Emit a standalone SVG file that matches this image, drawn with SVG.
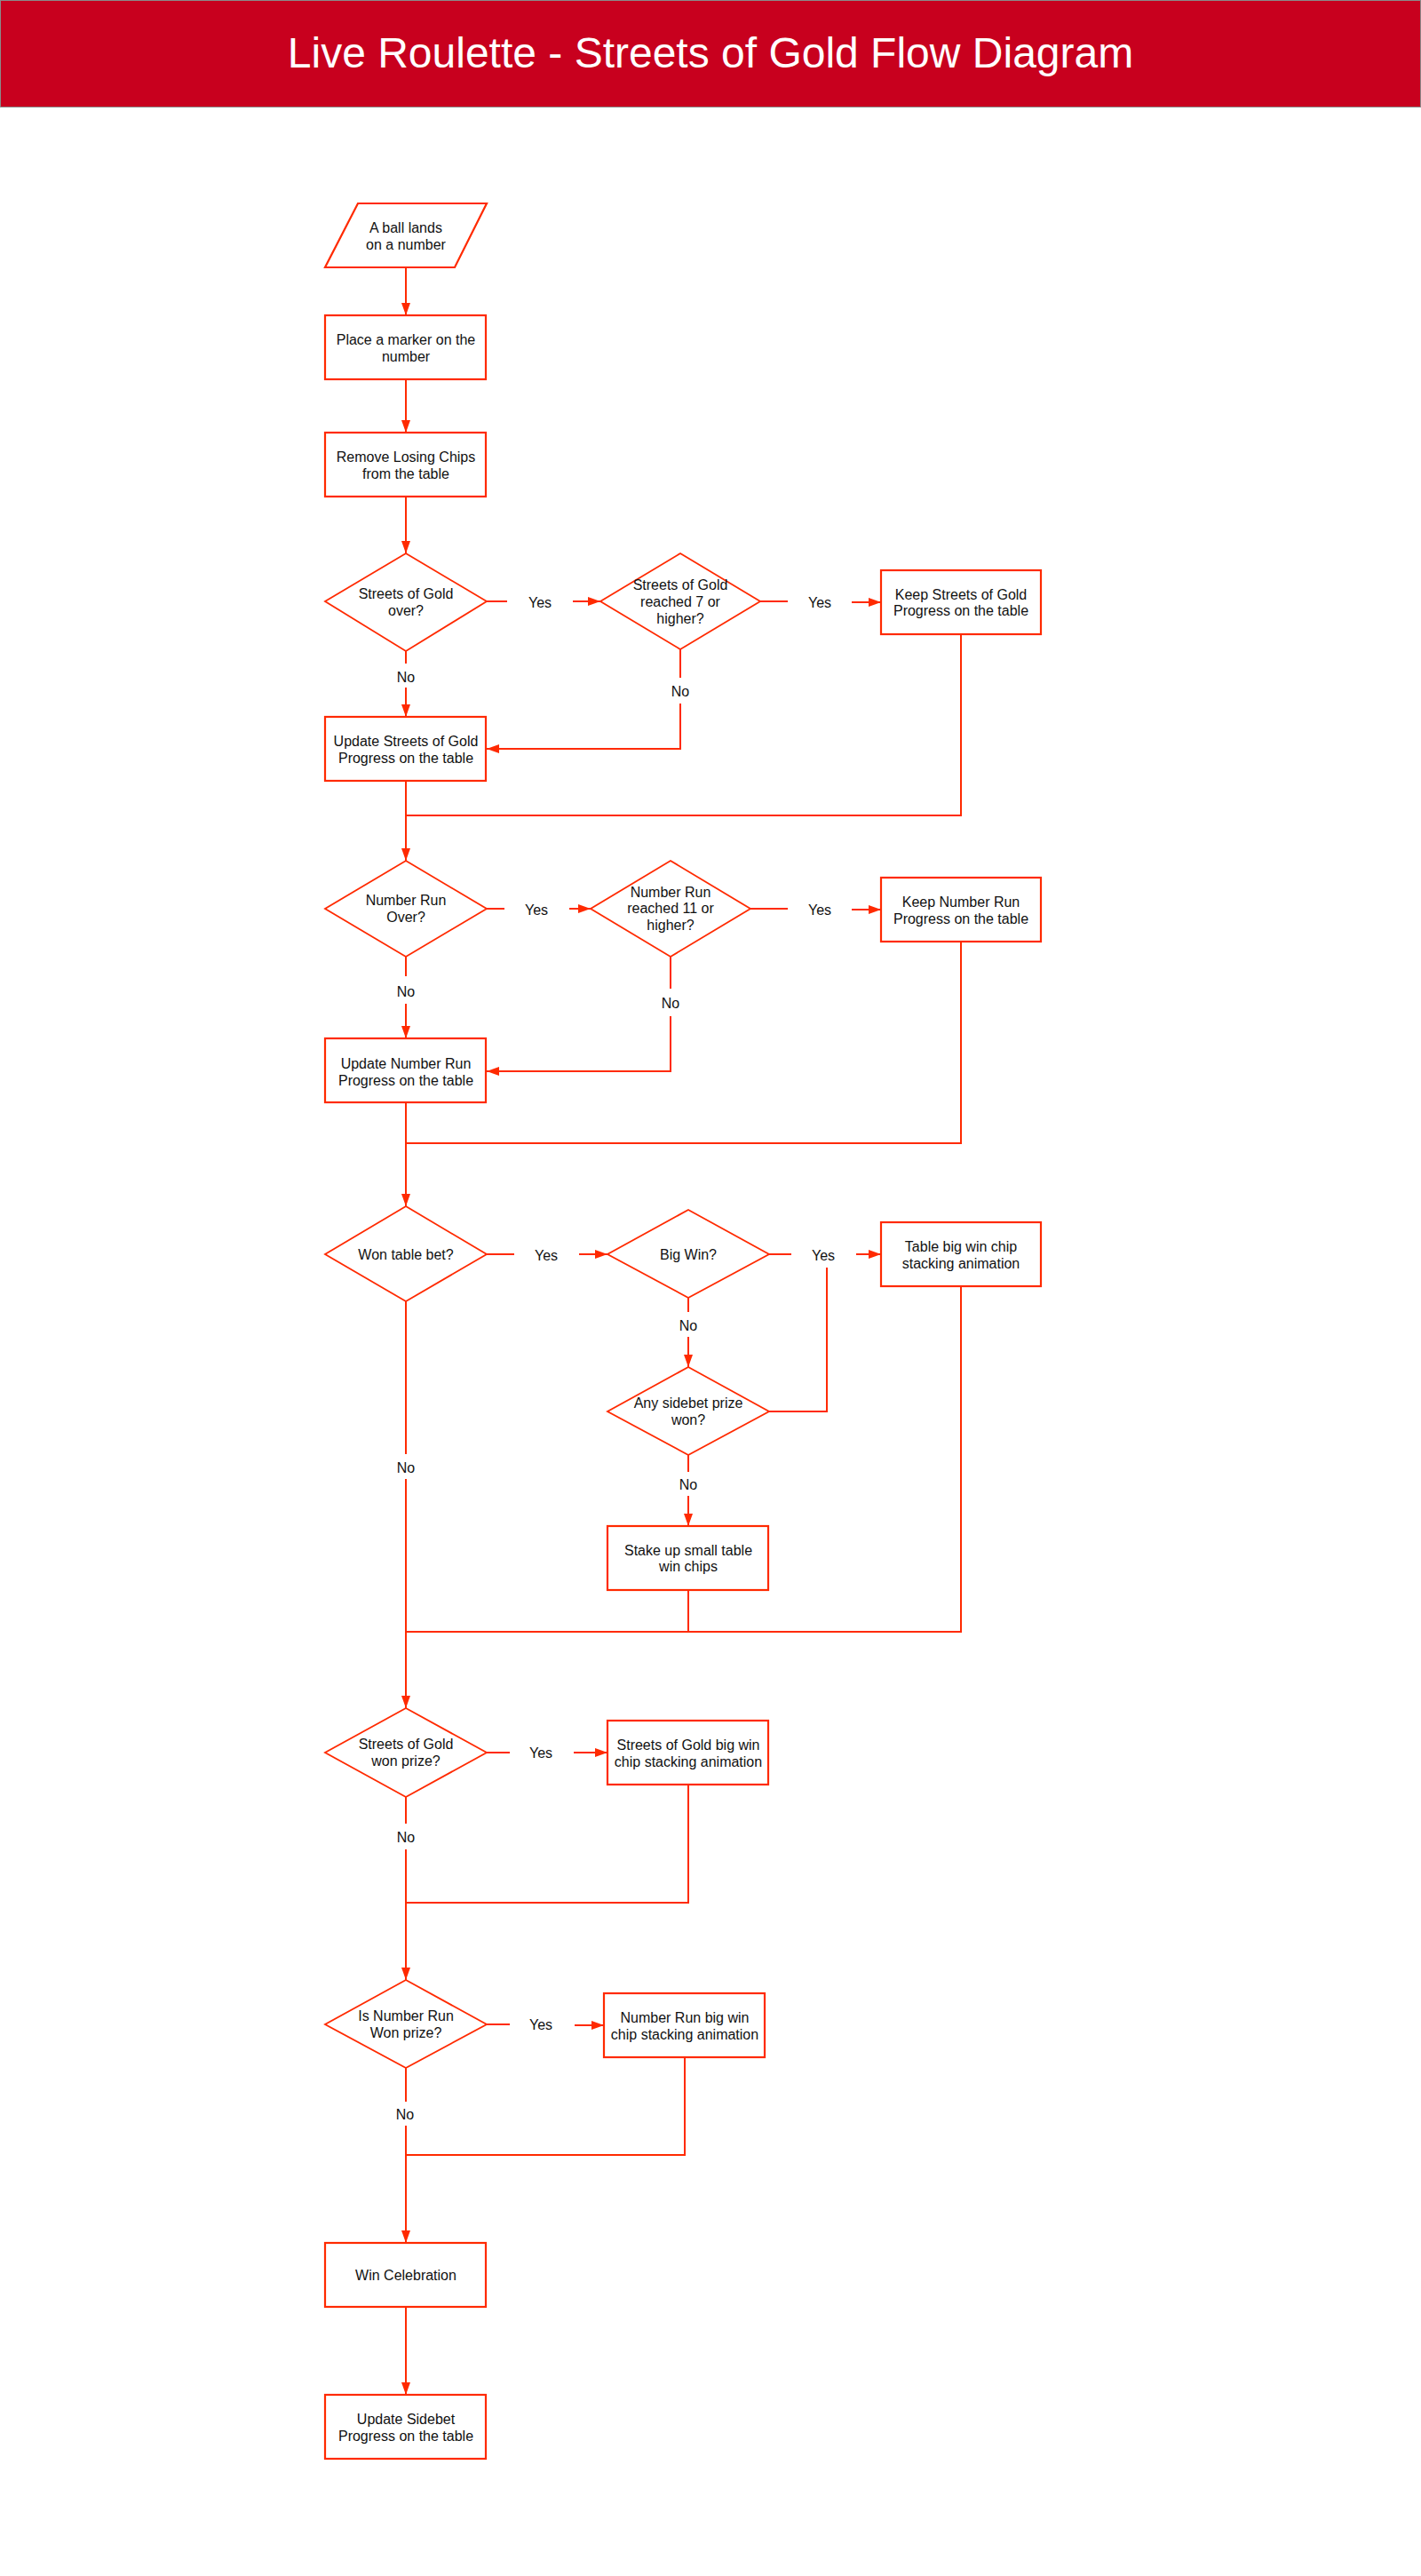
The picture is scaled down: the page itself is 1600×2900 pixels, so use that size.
<svg xmlns="http://www.w3.org/2000/svg" width="1600" height="2900" viewBox="0 0 1600 2900">
<style>
.nd{fill:#fff;stroke:#FF2A00;stroke-width:2.2}
.dm{fill:#fff;stroke:#FF2A00;stroke-width:1.8}
.t{font-family:"Liberation Sans",Arial,sans-serif;font-size:16px;fill:#111;text-anchor:middle}
.c{fill:none;stroke:#FF2A00;stroke-width:2}
.title{font-family:"Liberation Sans",Arial,sans-serif;font-size:48px;fill:#fff;text-anchor:middle}
</style>
<defs>
<marker id="ah" markerUnits="userSpaceOnUse" markerWidth="16" markerHeight="12" refX="14" refY="5" orient="auto">
<path d="M0,0 L14,5 L0,10 z" fill="#FF2A00"/>
</marker>
</defs>
<rect x="0" y="0" width="1600" height="2900" fill="#fff"/>
<g id="header">
<rect x="0.5" y="0.5" width="1599" height="120" fill="#C8001E" stroke="#8a8a8a" stroke-width="1"/>
<text class="title" x="800" y="76">Live Roulette - Streets of Gold Flow Diagram</text>
</g>
<g id="connectors">
<path class="c" d="M457,301 V355" marker-end="url(#ah)"/>
<path class="c" d="M457,427 V487" marker-end="url(#ah)"/>
<path class="c" d="M457,559 V623" marker-end="url(#ah)"/>
<path class="c" d="M548,677 H571"/>
<path class="c" d="M645,677 H676" marker-end="url(#ah)"/>
<path class="c" d="M856,677 H887"/>
<path class="c" d="M959,678 H992" marker-end="url(#ah)"/>
<path class="c" d="M457,733 V747"/>
<path class="c" d="M457,774 V807" marker-end="url(#ah)"/>
<path class="c" d="M766,731 V763"/>
<path class="c" d="M766,792 V843 H548" marker-end="url(#ah)"/>
<path class="c" d="M1082,714 V918 H457"/>
<path class="c" d="M457,879 V969" marker-end="url(#ah)"/>
<path class="c" d="M548,1023 H568"/>
<path class="c" d="M641,1023 H665" marker-end="url(#ah)"/>
<path class="c" d="M845,1023 H887"/>
<path class="c" d="M959,1024 H992" marker-end="url(#ah)"/>
<path class="c" d="M457,1077 V1099"/>
<path class="c" d="M457,1130 V1169" marker-end="url(#ah)"/>
<path class="c" d="M755,1077 V1113"/>
<path class="c" d="M755,1144 V1206 H548" marker-end="url(#ah)"/>
<path class="c" d="M1082,1060 V1287 H457"/>
<path class="c" d="M457,1241 V1358" marker-end="url(#ah)"/>
<path class="c" d="M548,1412 H579"/>
<path class="c" d="M652,1412 H684" marker-end="url(#ah)"/>
<path class="c" d="M866,1412 H891"/>
<path class="c" d="M964,1412 H992" marker-end="url(#ah)"/>
<path class="c" d="M775,1461 V1477"/>
<path class="c" d="M775,1505 V1539" marker-end="url(#ah)"/>
<path class="c" d="M866,1589 H931 V1427"/>
<path class="c" d="M775,1638 V1657"/>
<path class="c" d="M775,1684 V1718" marker-end="url(#ah)"/>
<path class="c" d="M457,1465 V1637"/>
<path class="c" d="M457,1665 V1923" marker-end="url(#ah)"/>
<path class="c" d="M1082,1448 V1837 H457"/>
<path class="c" d="M775,1790 V1837"/>
<path class="c" d="M548,1973 H574"/>
<path class="c" d="M646,1973 H684" marker-end="url(#ah)"/>
<path class="c" d="M457,2023 V2053"/>
<path class="c" d="M457,2082 V2229" marker-end="url(#ah)"/>
<path class="c" d="M775,2009 V2142 H457"/>
<path class="c" d="M548,2279 H574"/>
<path class="c" d="M647,2280 H680" marker-end="url(#ah)"/>
<path class="c" d="M457,2328 V2366"/>
<path class="c" d="M457,2393 V2525" marker-end="url(#ah)"/>
<path class="c" d="M771,2316 V2426 H457"/>
<path class="c" d="M457,2597 V2696" marker-end="url(#ah)"/>
</g>
<g id="labels">
<text class="t" x="608" y="684">Yes</text>
<text class="t" x="923" y="684">Yes</text>
<text class="t" x="457" y="768">No</text>
<text class="t" x="766" y="784">No</text>
<text class="t" x="604" y="1030">Yes</text>
<text class="t" x="923" y="1030">Yes</text>
<text class="t" x="457" y="1122">No</text>
<text class="t" x="755" y="1135">No</text>
<text class="t" x="615" y="1419">Yes</text>
<text class="t" x="927" y="1419">Yes</text>
<text class="t" x="775" y="1498">No</text>
<text class="t" x="775" y="1677">No</text>
<text class="t" x="457" y="1658">No</text>
<text class="t" x="609" y="1979">Yes</text>
<text class="t" x="457" y="2074">No</text>
<text class="t" x="609" y="2285">Yes</text>
<text class="t" x="456" y="2386">No</text>
</g>
<g id="n1"><polygon class="nd" points="403,229 548,229 512,301 366,301"/><text class="t" x="457" y="262">A ball lands</text><text class="t" x="457" y="281">on a number</text></g>
<g id="n2"><rect class="nd" x="366" y="355" width="181" height="72"/><text class="t" x="457" y="388">Place a marker on the</text><text class="t" x="457" y="407">number</text></g>
<g id="n3"><rect class="nd" x="366" y="487" width="181" height="72"/><text class="t" x="457" y="520">Remove Losing Chips</text><text class="t" x="457" y="539">from the table</text></g>
<g id="n4"><polygon class="dm" points="457,623 548,677 457,733 366,677"/><text class="t" x="457" y="674">Streets of Gold</text><text class="t" x="457" y="693">over?</text></g>
<g id="n5"><polygon class="dm" points="766,623 856,677 766,731 676,677"/><text class="t" x="766" y="664">Streets of Gold</text><text class="t" x="766" y="683">reached 7 or</text><text class="t" x="766" y="702">higher?</text></g>
<g id="n6"><rect class="nd" x="992" y="642" width="180" height="72"/><text class="t" x="1082" y="675">Keep Streets of Gold</text><text class="t" x="1082" y="693">Progress on the table</text></g>
<g id="n7"><rect class="nd" x="366" y="807" width="181" height="72"/><text class="t" x="457" y="840">Update Streets of Gold</text><text class="t" x="457" y="859">Progress on the table</text></g>
<g id="n8"><polygon class="dm" points="457,969 548,1023 457,1077 366,1023"/><text class="t" x="457" y="1019">Number Run</text><text class="t" x="457" y="1038">Over?</text></g>
<g id="n9"><polygon class="dm" points="755,969 845,1023 755,1077 665,1023"/><text class="t" x="755" y="1010">Number Run</text><text class="t" x="755" y="1028">reached 11 or</text><text class="t" x="755" y="1047">higher?</text></g>
<g id="n10"><rect class="nd" x="992" y="988" width="180" height="72"/><text class="t" x="1082" y="1021">Keep Number Run</text><text class="t" x="1082" y="1040">Progress on the table</text></g>
<g id="n11"><rect class="nd" x="366" y="1169" width="181" height="72"/><text class="t" x="457" y="1203">Update Number Run</text><text class="t" x="457" y="1222">Progress on the table</text></g>
<g id="n12"><polygon class="dm" points="457,1358 548,1412 457,1465 366,1412"/><text class="t" x="457" y="1418">Won table bet?</text></g>
<g id="n13"><polygon class="dm" points="775,1362 866,1412 775,1461 684,1412"/><text class="t" x="775" y="1418">Big Win?</text></g>
<g id="n14"><rect class="nd" x="992" y="1376" width="180" height="72"/><text class="t" x="1082" y="1409">Table big win chip</text><text class="t" x="1082" y="1428">stacking animation</text></g>
<g id="n15"><polygon class="dm" points="775,1539 866,1589 775,1638 684,1589"/><text class="t" x="775" y="1585">Any sidebet prize</text><text class="t" x="775" y="1604">won?</text></g>
<g id="n16"><rect class="nd" x="684" y="1718" width="181" height="72"/><text class="t" x="775" y="1751">Stake up small table</text><text class="t" x="775" y="1769">win chips</text></g>
<g id="n17"><polygon class="dm" points="457,1923 548,1973 457,2023 366,1973"/><text class="t" x="457" y="1969">Streets of Gold</text><text class="t" x="457" y="1988">won prize?</text></g>
<g id="n18"><rect class="nd" x="684" y="1937" width="181" height="72"/><text class="t" x="775" y="1970">Streets of Gold big win</text><text class="t" x="775" y="1989">chip stacking animation</text></g>
<g id="n19"><polygon class="dm" points="457,2229 548,2279 457,2328 366,2279"/><text class="t" x="457" y="2275">Is Number Run</text><text class="t" x="457" y="2294">Won prize?</text></g>
<g id="n20"><rect class="nd" x="680" y="2244" width="181" height="72"/><text class="t" x="771" y="2277">Number Run big win</text><text class="t" x="771" y="2296">chip stacking animation</text></g>
<g id="n21"><rect class="nd" x="366" y="2525" width="181" height="72"/><text class="t" x="457" y="2567">Win Celebration</text></g>
<g id="n22"><rect class="nd" x="366" y="2696" width="181" height="72"/><text class="t" x="457" y="2729">Update Sidebet</text><text class="t" x="457" y="2748">Progress on the table</text></g>
</svg>
